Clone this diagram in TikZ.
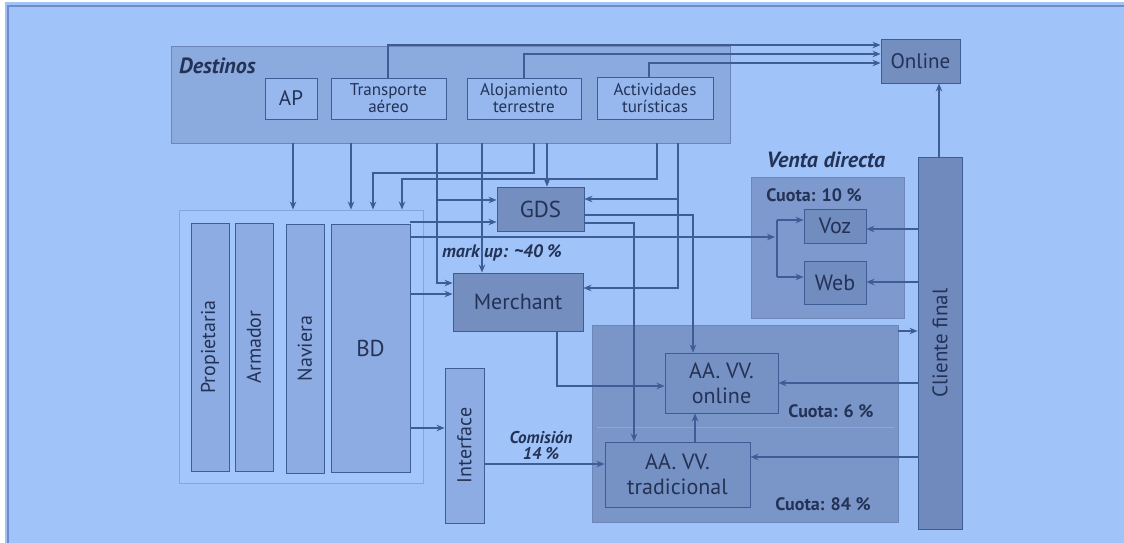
\documentclass[tikz,border=0pt]{standalone}
\usepackage{fontspec}
\setmainfont{PT Sans}
\usetikzlibrary{arrows.meta}
\definecolor{bgc}{RGB}{160,196,250}
\definecolor{framec}{RGB}{110,140,200}
\definecolor{destc}{RGB}{139,170,222}
\definecolor{innerc}{RGB}{150,184,238}
\definecolor{darkc}{RGB}{116,142,192}
\definecolor{vdc}{RGB}{125,153,205}
\definecolor{vwc}{RGB}{113,140,190}
\definecolor{aac}{RGB}{122,150,200}
\definecolor{aaedge}{RGB}{108,134,184}
\definecolor{aainc}{RGB}{118,145,195}
\definecolor{cfc}{RGB}{112,138,190}
\definecolor{vertc}{RGB}{141,172,228}
\definecolor{grpc}{RGB}{134,165,220}
\definecolor{grpfill}{RGB}{163,199,252}
\definecolor{divc}{RGB}{140,168,218}
\definecolor{linec}{RGB}{62,92,150}
\definecolor{textc}{RGB}{35,50,85}
\tikzset{
  box/.style={draw=linec, line width=0.9pt, inner sep=0pt, text=textc, align=center},
  arr/.style={draw=linec, line width=1.1pt, -{Stealth[length=8pt,width=6.5pt]}},
  ln/.style={draw=linec, line width=1.1pt},
  lbl/.style={text=textc, inner sep=0pt, align=center},
}
\newcommand\fsz[2]{\fontsize{#1}{#2}\selectfont}
\begin{document}
\begin{tikzpicture}[x=1pt,y=-1pt]
\useasboundingbox (0,0) rectangle (1124,543);
\fill[white] (0,0) rectangle (1124,543);
\fill[bgc] (5,2) rectangle (1124,543);
\draw[framec, line width=1.5pt] (8,543) -- (8,6) -- (1124,6);

% Destinos
\node[box, fill=destc, draw=aaedge, minimum width=559pt, minimum height=97pt] (dest) at (450.5,94.5) {};
\node[lbl, font=\fsz{22}{24}\bfseries\itshape, anchor=west] (destl) at (179,66) {Destinos};
\node[box, fill=innerc, minimum width=52pt, minimum height=41pt, font=\fsz{21}{23}] (ap) at (291,98.5) {AP};
\node[box, fill=innerc, minimum width=115pt, minimum height=41pt, font=\fsz{17}{17}] (ta) at (388.5,98.5) {Transporte\\aéreo};
\node[box, fill=innerc, minimum width=114pt, minimum height=41pt, font=\fsz{17}{17}] (at) at (524,98.5) {Alojamiento\\terrestre};
\node[box, fill=innerc, minimum width=116pt, minimum height=42pt, font=\fsz{17}{17}] (act) at (655,98) {Actividades\\turísticas};

\node[box, fill=darkc, minimum width=79pt, minimum height=44pt, font=\fsz{21}{23}] (online) at (920.5,61) {Online};

% group
\node[draw=grpc, line width=1pt, fill=grpfill, minimum width=244pt, minimum height=273pt, inner sep=0pt] (grp) at (301,346.5) {};
\node[box, fill=vertc, minimum width=38pt, minimum height=248pt] (prop) at (210,347) {};
\node[lbl, rotate=90, font=\fsz{20}{22}] (propl) at (prop) {Propietaria};
\node[box, fill=vertc, minimum width=38pt, minimum height=248pt] (arm) at (254,347) {};
\node[lbl, rotate=90, font=\fsz{20}{22}] (arml) at (arm) {Armador};
\node[box, fill=vertc, minimum width=38pt, minimum height=249pt] (nav) at (305,348.5) {};
\node[lbl, rotate=90, font=\fsz{20}{22}] (navl) at (nav) {Naviera};
\node[box, fill=vertc, minimum width=79pt, minimum height=248pt, font=\fsz{23}{25}] (bd) at (370.5,348) {BD};

\node[box, fill=darkc, minimum width=87pt, minimum height=44pt, font=\fsz{23}{25}] (gds) at (540.5,209) {GDS};
\node[box, fill=darkc, minimum width=130pt, minimum height=58pt, font=\fsz{22}{24}] (merch) at (518,302) {Merchant};
\node[lbl, font=\fsz{18}{20}\bfseries\itshape] (mk) at (502,253) {mark up: \textasciitilde 40 \%};

% Venta directa
\node[lbl, font=\fsz{22}{24}\bfseries\itshape] (vdl) at (826,160) {Venta directa};
\node[box, fill=vdc, draw=aaedge, minimum width=153pt, minimum height=141pt] (vd) at (827.5,247.5) {};
\node[lbl, font=\fsz{18}{20}\bfseries] (c10) at (814,195) {Cuota: 10 \%};
\node[box, fill=vwc, minimum width=62pt, minimum height=34pt, font=\fsz{22}{24}] (voz) at (835,226) {Voz};
\node[box, fill=vwc, minimum width=62pt, minimum height=43pt, font=\fsz{22}{24}] (web) at (835,282.5) {Web};

% Cliente final
\node[box, fill=cfc, minimum width=44pt, minimum height=372pt] (cf) at (940,343) {};
\node[lbl, rotate=90, font=\fsz{21}{23}] (cfl) at (cf) {Cliente final};

% AA VV
\node[box, fill=aac, draw=aaedge, minimum width=306pt, minimum height=197pt] (aa) at (745,423.5) {};
\draw[divc, line width=1pt] (597,427) -- (894,427);
\node[box, fill=aainc, minimum width=113pt, minimum height=60pt, font=\fsz{22}{25}] (aaon) at (721.5,383) {AA. VV.\\online};
\node[box, fill=aainc, minimum width=145pt, minimum height=65pt, font=\fsz{22}{25}] (aatr) at (677.5,474.5) {AA. VV.\\tradicional};
\node[lbl, font=\fsz{18}{20}\bfseries] (c6) at (831,411) {Cuota: 6 \%};
\node[lbl, font=\fsz{18}{20}\bfseries] (c84) at (823,504) {Cuota: 84 \%};

% Interface
\node[box, fill=vertc, minimum width=39pt, minimum height=155pt] (iface) at (464.5,445.5) {};
\node[lbl, rotate=90, font=\fsz{20}{22}] (ifl) at (iface) {Interface};
\node[lbl, font=\fsz{17}{16}\bfseries\itshape] (com) at (541,445) {Comisión\\14 \%};

% connectors to Online
\draw[arr] (388,0 |- ta.north) -- (388,45) -- (online.west |- 0,45);
\draw[arr] (524,0 |- at.north) -- (524,54) -- (online.west |- 0,54);
\draw[arr] (649,0 |- act.north) -- (649,63) -- (online.west |- 0,63);
\draw[arr] (cf.north -| 939,0) -- (online.south -| 939,0);

% Destinos down
\draw[arr] (293,0 |- dest.south) -- (293,0 |- grp.north);
\draw[arr] (351,0 |- dest.south) -- (351,0 |- grp.north);
\draw[arr] (534,0 |- dest.south) -- (534,173) -- (373,173) -- (373,0 |- grp.north);
\draw[arr] (657,0 |- dest.south) -- (657,179) -- (402,179) -- (402,0 |- grp.north);
\draw[arr] (547,0 |- dest.south) -- (547,0 |- gds.north);
\draw[arr] (437,0 |- dest.south) -- (437,283) -- (merch.west |- 0,283);
\coordinate (j1) at (437,200);
\draw[arr] (j1) -- (gds.west |- 0,200);
\draw[arr] (482,0 |- dest.south) -- (482,0 |- merch.north);
\draw[arr] (678,0 |- dest.south) -- (678,288) -- (merch.east |- 0,288);
\coordinate (j2) at (678,199);
\draw[arr] (j2) -- (gds.east |- 0,199);

% BD outputs
\draw[arr] (bd.east |- 0,222) -- (gds.west |- 0,222);
\draw[arr] (bd.east |- 0,294) -- (merch.west |- 0,294);
\coordinate (br) at (775,237);
\draw[arr] (bd.east |- 0,237) -- (br);
\draw[ln] (777,220) -- (777,277);
\draw[arr] (777,220) -- (voz.west |- 0,220);
\draw[arr] (777,277) -- (web.west |- 0,277);
\draw[arr] (bd.east |- 0,428) -- (iface.west |- 0,428);

% GDS outputs
\draw[arr] (gds.east |- 0,215) -- (693,215) -- (693,0 |- aaon.north);
\draw[arr] (gds.east |- 0,223) -- (634,223) -- (634,0 |- aatr.north);
\draw[arr] (merch.south -| 557,0) -- (557,386) -- (aaon.west |- 0,386);

% Interface to tradicional
\draw[arr] (iface.east |- 0,464) -- (aatr.west |- 0,464);
\draw[arr] (aatr.north -| 695,0) -- (aaon.south -| 695,0);

% Cliente final
\draw[arr] (cf.west |- 0,229) -- (voz.east |- 0,229);
\draw[arr] (cf.west |- 0,282) -- (web.east |- 0,282);
\draw[arr] (cf.west |- 0,383) -- (aaon.east |- 0,383);
\draw[arr] (cf.west |- 0,457) -- (aatr.east |- 0,457);
\draw[arr] (aa.east |- 0,331) -- (cf.west |- 0,331);
\end{tikzpicture}
\end{document}
